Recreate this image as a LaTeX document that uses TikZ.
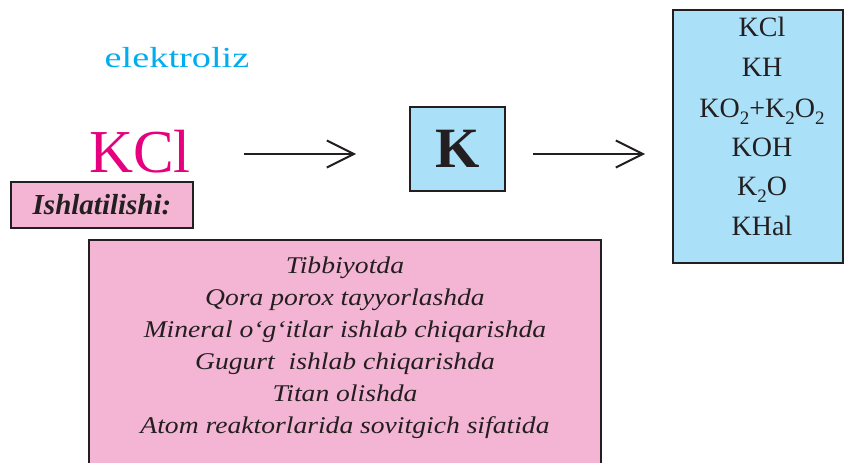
\documentclass[tikz,border=0pt]{standalone}
\usepackage{fontspec}
\setmainfont{Liberation Serif}
\usetikzlibrary{arrows.meta}
\definecolor{pinkfill}{RGB}{244,180,212}
\definecolor{bluefill}{RGB}{171,224,249}
\definecolor{cyantext}{RGB}{0,174,239}
\definecolor{magtext}{RGB}{230,0,126}
\definecolor{ink}{RGB}{35,31,32}
\newcommand{\subtwo}{\raisebox{-0.28em}{\fontsize{19}{19}\selectfont 2}}
\tikzset{
  boxline/.style={draw=ink, line width=2pt},
  arr/.style={draw=ink, line width=2pt, -{Straight Barb[length=27pt,width=27pt,line width=2pt]}},
  listtxt/.style={inner sep=0, anchor=base, text=ink, font=\fontsize{28}{34}\selectfont},
  usetxt/.style={inner sep=0, anchor=base, text=ink, font=\fontsize{24}{30}\selectfont\itshape},
}
\begin{document}
\begin{tikzpicture}[x=1pt,y=-1pt]
\useasboundingbox (0,0) rectangle (844,463);
\node[text=cyantext, font=\fontsize{29}{34}\selectfont, inner sep=0, anchor=base] (elek) at (177,67) {\scalebox{1.32}[1]{elektroliz}};
\node[text=magtext, font=\fontsize{61}{64}\selectfont, inner sep=0, anchor=base] (kcl) at (140,172) {KCl};
\node[boxline, fill=pinkfill, minimum width=182pt, minimum height=46pt, inner sep=0, text=ink, font=\fontsize{29}{34}\selectfont\bfseries\itshape] (ish) at (102,205) {Ishlatilishi:};
\node[boxline, fill=bluefill, minimum width=95pt, minimum height=84pt, inner sep=0, text=ink, font=\fontsize{57}{60}\selectfont\bfseries] (kbox) at (457.5,149) {K};
\draw[boxline, fill=bluefill] (673,10) rectangle (843,263);
\node[listtxt] (l1) at (762,36) {KCl};
\node[listtxt] (l2) at (762,76) {KH};
\node[listtxt] (l3) at (762,117) {KO\subtwo+K\subtwo O\subtwo};
\node[listtxt] (l4) at (762,156) {KOH};
\node[listtxt] (l5) at (762,195) {K\subtwo O};
\node[listtxt] (l6) at (762,235) {KHal};
\draw[boxline, fill=pinkfill] (89,240) rectangle (601,475);
\node[usetxt] (u1) at (345,273) {\scalebox{1.15}[1]{Tibbiyotda}};
\node[usetxt] (u2) at (345,305) {\scalebox{1.15}[1]{Qora porox tayyorlashda}};
\node[usetxt] (u3) at (345,337) {\scalebox{1.15}[1]{Mineral o‘g‘itlar ishlab chiqarishda}};
\node[usetxt] (u4) at (345,369) {\scalebox{1.15}[1]{Gugurt~ ishlab chiqarishda}};
\node[usetxt] (u5) at (345,401) {\scalebox{1.15}[1]{Titan olishda}};
\node[usetxt] (u6) at (345,433) {\scalebox{1.15}[1]{Atom reaktorlarida sovitgich sifatida}};
\draw[arr, shorten <=53pt, shorten >=53pt] (kcl.east |- 0,154) -- (kbox.west |- 0,154);
\draw[arr, shorten <=27pt, shorten >=28pt] (kbox.east |- 0,154) -- (673,154);
\end{tikzpicture}
\end{document}
